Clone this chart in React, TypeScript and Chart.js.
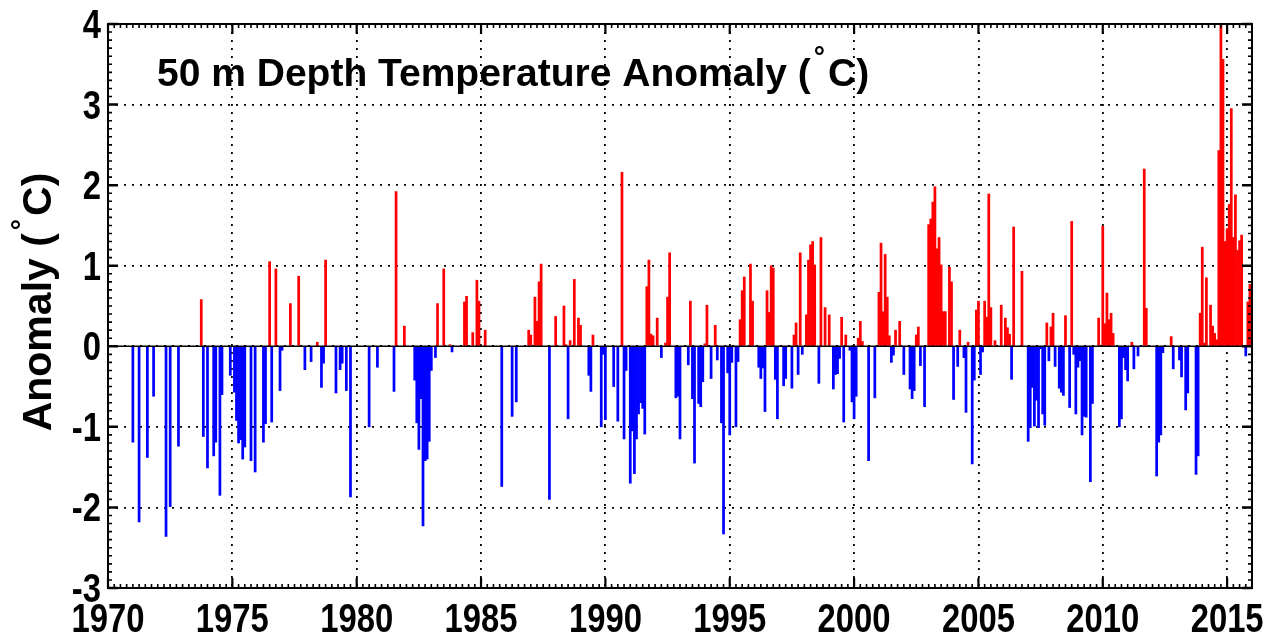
import React, { useEffect, useRef } from "react";
import { Chart, registerables } from "chart.js";

Chart.register(...registerables);

// Monthly anomalies (°C): [month offset from the block's first January, value]
const d1970: [number, number][] = [[12,-1.19],[15,-2.18],[19,-1.38],[22,-0.62],[28,-2.36],[30,-1.99],[34,-1.24],[45,0.58],[46,-1.12],[48,-1.51],[51,-1.36],[52,-1.19],[54,-1.85],[55,-0.6],[59,-0.36]];
const d1975: [number, number][] = [[1,-0.57],[2,-0.92],[3,-1.2],[4,-1.16],[5,-1.4],[6,-1.25],[9,-1.42],[11,-1.56],[15,-1.19],[16,-0.96],[18,1.05],[19,-0.94],[21,0.96],[23,-0.55],[24,-0.05],[28,0.53],[32,0.87],[35,-0.29],[38,-0.19],[41,0.05],[43,-0.51],[44,-0.21],[45,1.07],[50,-0.58],[52,-0.29],[53,-0.21],[55,-0.55],[57,-1.87]];
const d1980: [number, number][] = [[6,-1.0],[10,-0.26],[18,-0.56],[19,1.92],[23,0.25],[28,-0.42],[29,-0.95],[30,-1.28],[31,-0.65],[32,-2.23],[33,-1.42],[34,-1.4],[35,-1.18],[36,-0.3],[38,-0.14],[39,0.53],[42,0.96],[45,0.02],[46,-0.07],[52,0.55],[53,0.62],[56,0.17],[58,0.82],[59,0.56]];
const d1985: [number, number][] = [[2,0.2],[10,-1.74],[15,-0.87],[17,-0.69],[23,0.2],[24,0.14],[26,0.61],[27,0.31],[28,0.8],[29,1.02],[33,-1.9],[36,0.37],[40,0.5],[41,0.02],[42,-0.9],[43,0.07],[45,0.83],[47,0.35],[48,0.26],[52,-0.36],[53,-0.56],[54,0.14],[58,-1.0],[59,-0.1]];
const d1990: [number, number][] = [[0,-0.91],[4,-0.5],[6,-0.93],[8,2.16],[9,-1.15],[10,-0.3],[12,-1.7],[13,-1.05],[14,-1.58],[15,-1.15],[16,-0.84],[17,-0.7],[18,-0.77],[19,-1.09],[20,0.74],[21,1.07],[22,0.15],[23,0.13],[25,0.35],[27,-0.14],[29,0.04],[30,0.61],[31,1.16],[34,-0.64],[35,-0.62],[36,-1.15],[40,-0.23],[41,0.56],[42,-0.65],[43,-1.45],[45,-0.71],[46,-0.75],[47,-0.44],[48,0.03],[49,0.51],[51,-0.4],[53,0.26],[54,-0.17],[56,-0.95],[57,-2.33],[59,-0.33]];
const d1995: [number, number][] = [[0,-1.1],[1,-0.2],[3,-1.0],[4,-0.19],[5,0.33],[6,0.69],[7,0.86],[10,1.02],[11,0.56],[14,-0.26],[15,-0.4],[16,-0.27],[17,-0.81],[18,0.69],[19,0.42],[20,1.0],[21,0.97],[22,-0.41],[23,-0.9],[26,-0.49],[27,-0.4],[30,-0.52],[31,0.14],[32,0.29],[33,-0.35],[34,1.16],[35,-0.1],[37,0.39],[38,1.07],[39,1.26],[40,1.3],[41,1.01],[43,-0.46],[44,1.35],[46,0.48],[48,0.39],[50,-0.53],[51,-0.35],[52,-0.34],[53,-0.15],[54,0.36],[55,-0.94],[56,0.14],[58,-0.05],[59,-0.69]];
const d2000: [number, number][] = [[0,-0.9],[1,-0.62],[2,0.1],[3,0.31],[4,0.06],[7,-1.42],[10,-0.64],[12,0.67],[13,1.28],[14,0.43],[15,1.14],[16,0.61],[17,0.13],[18,-0.2],[19,-0.11],[20,0.2],[22,0.31],[24,-0.35],[27,-0.53],[28,-0.65],[29,-0.55],[30,0.14],[31,0.24],[32,-0.24],[34,-0.75],[36,1.51],[37,1.58],[38,1.79],[39,1.98],[40,1.21],[41,1.35],[42,1.01],[43,0.43],[44,0.43],[46,0.98],[47,0.8],[48,-0.66],[50,-0.25],[51,0.2],[53,-0.14],[54,-0.82],[55,0.05],[57,-1.46],[58,-0.42],[59,0.45]];
const d2005: [number, number][] = [[0,0.56],[1,-0.35],[2,-0.07],[3,0.56],[4,0.36],[5,1.89],[6,0.48],[8,0.07],[11,0.51],[13,0.35],[14,0.23],[15,0.15],[16,-0.41],[17,1.48],[21,0.93],[24,-1.18],[25,-1.01],[26,-0.51],[27,-0.99],[28,-0.67],[29,-1.01],[30,-0.03],[31,-0.84],[32,-0.98],[33,0.29],[34,-0.18],[35,0.24],[36,0.41],[37,-0.25],[39,-0.52],[40,-0.57],[41,-0.61],[42,0.38],[44,-0.76],[45,1.55],[46,-0.1],[47,-0.84],[48,-0.26],[49,-0.18],[50,-1.1],[51,-0.87],[52,-0.88],[54,-1.68],[55,-0.71],[58,0.35]];
const d2010: [number, number][] = [[0,1.49],[1,0.28],[2,0.66],[3,0.33],[4,0.41],[5,0.16],[8,-1.0],[9,-0.9],[10,-0.14],[11,-0.29],[12,-0.43],[14,0.05],[15,-0.28],[17,-0.12],[20,2.2],[21,0.47],[26,-1.61],[27,-1.19],[28,-1.1],[29,-0.08],[33,0.12],[34,-0.28],[37,-0.17],[38,-0.38],[40,-0.79],[41,-0.58],[45,-1.59],[46,-1.36],[47,0.41],[48,1.23],[49,0.04],[50,0.85],[52,0.51],[53,0.25],[54,0.16],[55,0.08],[56,2.43],[57,4.3],[58,3.56],[59,1.3]];
const d2015: [number, number][] = [[0,1.46],[1,1.76],[2,2.95],[3,1.35],[4,1.88],[5,1.19],[6,1.31],[7,1.38],[9,-0.12],[10,0.55],[11,0.77]];

const BLOCK_STARTS = [1970, 1975, 1980, 1985, 1990, 1995, 2000, 2005, 2010, 2015];
const BLOCKS = [d1970, d1975, d1980, d1985, d1990, d1995, d2000, d2005, d2010, d2015];

const X_MIN = 1970;
const X_MAX = 2016;
const X_STEP = 5;
const Y_MIN = -3;
const Y_MAX = 4;
const Y_STEP = 1;
const X_MINOR = 0.25;
const Y_MINOR = 0.1;

const TITLE_LEFT = "50 m Depth Temperature Anomaly (";
const TITLE_RIGHT = "C)";
const YLABEL_LEFT = "Anomaly (";
const YLABEL_RIGHT = "C)";
const DEGREE = "°";

const TEXT_FONT = '"Liberation Sans", Arial, Helvetica, sans-serif';
const NARROW = 0.82;

const framePlugin = {
  id: "frame",
  afterDatasetsDraw(chart: any) {
    const { ctx, chartArea, scales } = chart;
    const { left, right, top, bottom } = chartArea;
    const xs = scales.x;
    const ys = scales.y;
    ctx.save();
    ctx.strokeStyle = "#000";
    // zero baseline
    const z = ys.getPixelForValue(0);
    ctx.lineWidth = 1.5;
    ctx.beginPath();
    ctx.moveTo(left, z);
    ctx.lineTo(right, z);
    ctx.stroke();
    // y ticks (inward, both sides)
    const ny = Math.round((Y_MAX - Y_MIN) / Y_MINOR);
    for (let i = 0; i <= ny; i++) {
      const v = Y_MIN + i * Y_MINOR;
      const major = i % Math.round(Y_STEP / Y_MINOR) === 0;
      const len = major ? 10 : 4;
      ctx.lineWidth = major ? 2.5 : 1.6;
      const py = ys.getPixelForValue(v);
      ctx.beginPath();
      ctx.moveTo(left, py);
      ctx.lineTo(left + len, py);
      ctx.moveTo(right, py);
      ctx.lineTo(right - len, py);
      ctx.stroke();
    }
    // x ticks (inward, top and bottom)
    const nx = Math.round((X_MAX - X_MIN) / X_MINOR);
    for (let i = 0; i <= nx; i++) {
      const v = X_MIN + i * X_MINOR;
      const major = i % Math.round(X_STEP / X_MINOR) === 0;
      const len = major ? 10 : 4;
      ctx.lineWidth = major ? 2.2 : 1.6;
      const px = xs.getPixelForValue(v);
      ctx.beginPath();
      ctx.moveTo(px, bottom);
      ctx.lineTo(px, bottom - len);
      ctx.moveTo(px, top);
      ctx.lineTo(px, top + len);
      ctx.stroke();
    }
    // frame
    ctx.lineWidth = 2;
    ctx.strokeRect(left, top, right - left, bottom - top);

    ctx.fillStyle = "#000";
    ctx.textBaseline = "alphabetic";

    // tick labels (narrow bold, like the original)
    const narrowText = (s: string, x: number, y: number, align: CanvasTextAlign) => {
      ctx.save();
      ctx.translate(x, y);
      ctx.scale(NARROW, 1);
      ctx.textAlign = align;
      ctx.fillText(s, 0, 0);
      ctx.restore();
    };
    ctx.font = `bold 40px ${TEXT_FONT}`;
    xs.ticks.forEach((t: any) => {
      narrowText(String(t.label), xs.getPixelForValue(t.value), 632, "center");
    });
    ys.ticks.forEach((t: any) => {
      narrowText(String(t.label), 101, ys.getPixelForValue(t.value) + 14, "right");
    });

    // label with a raised degree sign
    ctx.textAlign = "left";
    const drawLabel = (l: string, r: string, x0: number, y0: number, size: number) => {
      ctx.font = `bold ${size}px ${TEXT_FONT}`;
      ctx.fillText(l, x0, y0);
      let x = x0 + ctx.measureText(l).width + 3;
      ctx.font = `bold 28px ${TEXT_FONT}`;
      ctx.fillText(DEGREE, x, y0 - 20);
      x += ctx.measureText(DEGREE).width + 3;
      ctx.font = `bold ${size}px ${TEXT_FONT}`;
      ctx.fillText(r, x, y0);
      x += ctx.measureText(r).width;
      return x - x0;
    };
    const labelWidth = (l: string, r: string, size: number) => {
      ctx.font = `bold ${size}px ${TEXT_FONT}`;
      const a = ctx.measureText(l).width + ctx.measureText(r).width;
      ctx.font = `bold 28px ${TEXT_FONT}`;
      return a + ctx.measureText(DEGREE).width + 6;
    };
    drawLabel(TITLE_LEFT, TITLE_RIGHT, 157, 86, 39);

    // y-axis label (rotated)
    const total = labelWidth(YLABEL_LEFT, YLABEL_RIGHT, 41);
    const cy = 302;
    ctx.save();
    ctx.translate(51, cy + total / 2);
    ctx.rotate(-Math.PI / 2);
    drawLabel(YLABEL_LEFT, YLABEL_RIGHT, 0, 0, 41);
    ctx.restore();

    ctx.restore();
  },
};

const zeroPad = (s: any) => {
  s.paddingTop = 0;
  s.paddingBottom = 0;
  s.paddingLeft = 0;
  s.paddingRight = 0;
};

export default function App() {
  const ref = useRef<HTMLCanvasElement | null>(null);

  useEffect(() => {
    if (!ref.current) return;
    const points: { x: number; y: number }[] = [];
    BLOCKS.forEach((block, bi) => {
      block.forEach(([m, v]) => {
        points.push({ x: BLOCK_STARTS[bi] + m / 12, y: v });
      });
    });

    const chart = new Chart(ref.current, {
      type: "bar",
      data: {
        datasets: [
          {
            data: points as any,
            backgroundColor: (c: any) => (c.raw && c.raw.y >= 0 ? "#ff0000" : "#0000ff"),
            borderWidth: 0,
            barPercentage: 1,
            categoryPercentage: 1,
            clip: 0 as any,
          },
        ],
      },
      options: {
        animation: false,
        responsive: false,
        devicePixelRatio: 1,
        layout: { padding: { top: 24, right: 29, left: 0, bottom: 0 } },
        plugins: {
          legend: { display: false },
          tooltip: { enabled: false },
          title: { display: false },
        },
        scales: {
          x: {
            type: "linear",
            min: X_MIN,
            max: X_MAX,
            offset: false,
            ticks: {
              display: false,
              stepSize: X_STEP,
              includeBounds: false,
              autoSkip: false,
              maxRotation: 0,
              minRotation: 0,
              callback: (v: any) => String(v),
            },
            grid: { color: "#000", lineWidth: 1.8, drawTicks: false, offset: false },
            border: { display: false, dash: [2, 6] },
            afterFit: (s: any) => {
              s.height = 51;
              zeroPad(s);
            },
          },
          y: {
            type: "linear",
            min: Y_MIN,
            max: Y_MAX,
            ticks: {
              display: false,
              stepSize: Y_STEP,
              callback: (v: any) => String(v),
            },
            grid: { color: "#000", lineWidth: 1.8, drawTicks: false },
            border: { display: false, dash: [2, 6] },
            afterFit: (s: any) => {
              s.width = 108;
              zeroPad(s);
            },
          },
        },
      } as any,
      plugins: [framePlugin],
    });
    return () => chart.destroy();
  }, []);

  return (
    <div style={{ position: "absolute", left: 0, top: 0, width: 1281, height: 639, background: "#fff" }}>
      <canvas ref={ref} width={1281} height={639} style={{ display: "block" }} />
    </div>
  );
}
